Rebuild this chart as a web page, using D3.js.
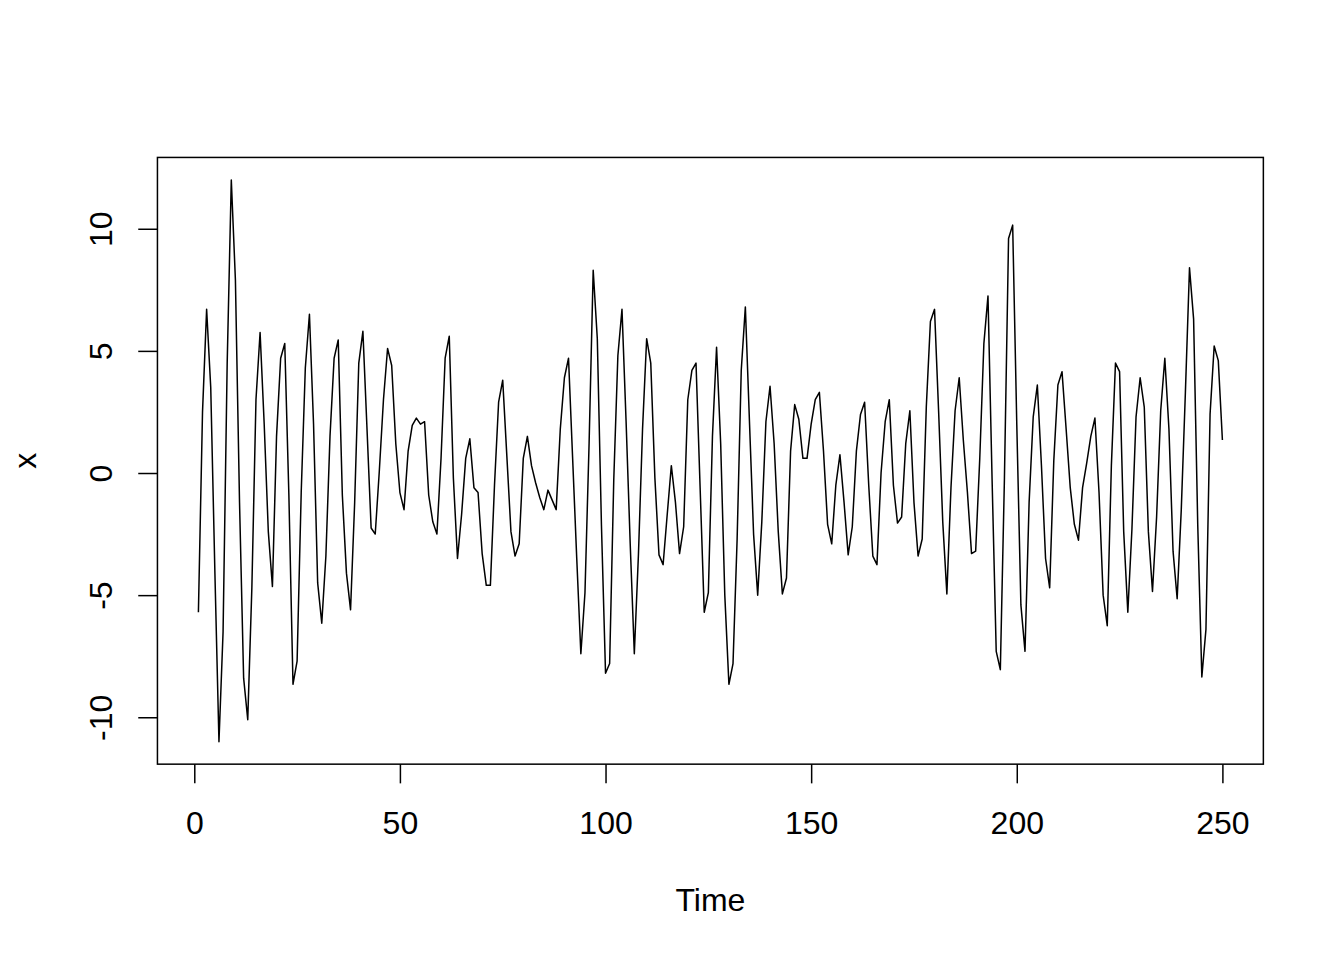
<!DOCTYPE html>
<html>
<head>
<meta charset="utf-8">
<script src="https://cdn.jsdelivr.net/npm/d3@7"></script>
<style>
  html, body { margin: 0; padding: 0; background: #ffffff; }
  svg { display: block; }
  text { font-family: "Liberation Sans", Arial, Helvetica, sans-serif; fill: #000; }
</style>
</head>
<body>
<svg id="chart" width="1344" height="960"></svg>
<script>
// ---- data ----
const seriesName = "x";
const xLabel = "Time";
const xTicks = [0, 50, 100, 150, 200, 250];
const yTicks = [-10, -5, 0, 5, 10];
const values = [
  -5.7, 2.5, 6.7, 3.5, -4.0, -11.0, -6.5, 4.5, 12.0, 7.9,
  -1.2, -8.4, -10.1, -4.7, 3.0, 5.75, 2.0, -2.4, -4.65, 1.5,
  4.7, 5.3, -0.9, -8.65, -7.7, -0.8, 4.3, 6.5, 2.0, -4.5,
  -6.15, -3.4, 1.5, 4.7, 5.45, -0.9, -4.1, -5.6, -1.2, 4.5,
  5.8, 1.8, -2.25, -2.5, 0.1, 3.0, 5.1, 4.4, 1.2, -0.8,
  -1.5, 0.9, 1.95, 2.25, 2.0, 2.1, -0.9, -2.0, -2.5, 0.6,
  4.7, 5.6, -0.2, -3.5, -1.7, 0.6, 1.4, -0.6, -0.8, -3.3,
  -4.6, -4.6, -0.5, 2.9, 3.8, 0.7, -2.4, -3.4, -2.9, 0.6,
  1.5, 0.3, -0.4, -1.0, -1.5, -0.7, -1.1, -1.5, 1.8, 3.9,
  4.7, 0.6, -3.5, -7.4, -4.9, 1.2, 8.3, 5.5, -2.1, -8.2,
  -7.8, -0.3, 4.8, 6.7, 2.1, -2.9, -7.4, -3.35, 1.8, 5.5,
  4.5, -0.2, -3.35, -3.75, -1.7, 0.3, -1.2, -3.3, -2.2, 3.0,
  4.2, 4.5, -0.6, -5.7, -4.9, 1.5, 5.15, 1.2, -5.0, -8.65,
  -7.8, -2.7, 4.2, 6.8, 2.1, -2.5, -5.0, -2.0, 2.1, 3.55,
  1.2, -2.4, -4.95, -4.3, 0.9, 2.8, 2.2, 0.6, 0.6, 2.0,
  3.0, 3.3, 0.9, -2.1, -2.9, -0.5, 0.75, -1.2, -3.35, -2.2,
  0.9, 2.4, 2.9, -0.5, -3.4, -3.75, 0.0, 2.1, 3.0, -0.5,
  -2.05, -1.8, 1.2, 2.55, -1.2, -3.4, -2.7, 2.7, 6.2, 6.7,
  2.5, -2.0, -4.95, -0.6, 2.55, 3.9, 1.35, -0.8, -3.3, -3.2,
  0.6, 5.3, 7.25, -0.3, -7.3, -8.05, -0.2, 9.6, 10.15, 2.0,
  -5.4, -7.3, -1.2, 2.3, 3.6, 0.3, -3.5, -4.7, 0.5, 3.6,
  4.15, 1.8, -0.6, -2.1, -2.75, -0.6, 0.4, 1.5, 2.25, -0.8,
  -5.0, -6.25, 0.3, 4.5, 4.15, -2.4, -5.7, -2.3, 2.3, 3.9,
  2.7, -2.4, -4.85, -1.8, 2.55, 4.7, 1.8, -3.2, -5.15, -1.5,
  3.3, 8.4, 6.3, -2.1, -8.35, -6.4, 2.4, 5.2, 4.6, 1.35
];
const times = values.map((v, i) => i + 1);

// ---- layout (R base graphics defaults at 192 dpi) ----
const W = 1344, H = 960;
const lineH = 38.4;
const margin = { top: 4.1 * lineH, right: 2.1 * lineH, bottom: 5.1 * lineH, left: 4.1 * lineH };
const x0 = margin.left, x1 = W - margin.right;
const y0 = margin.top, y1 = H - margin.bottom;

function rRange(ext) {
  const d = (ext[1] - ext[0]) * 0.04;
  return [ext[0] - d, ext[1] + d];
}
const xScale = d3.scaleLinear().domain(rRange(d3.extent(times))).range([x0, x1]);
const yScale = d3.scaleLinear().domain(rRange(d3.extent(values))).range([y1, y0]);

const svg = d3.select("#chart");
svg.append("rect").attr("width", W).attr("height", H).attr("fill", "#fff");

// series line
const line = d3.line().x((d, i) => xScale(times[i])).y(d => yScale(d));
svg.append("path")
  .datum(values)
  .attr("d", line)
  .attr("fill", "none")
  .attr("stroke", "#000")
  .attr("stroke-width", 1.5)
  .attr("stroke-linejoin", "round");

// box
svg.append("rect")
  .attr("x", x0).attr("y", y0)
  .attr("width", x1 - x0).attr("height", y1 - y0)
  .attr("fill", "none").attr("stroke", "#000").attr("stroke-width", 1.5);

const tickLen = 0.5 * lineH;
const fontSize = 32;
const fmt = d => String(d);   // plain hyphen-minus, as in R

// x axis
const gx = svg.append("g").attr("transform", `translate(0,${y1})`)
  .call(d3.axisBottom(xScale).tickValues(xTicks).tickSize(tickLen).tickSizeOuter(0).tickFormat(fmt));
gx.select(".domain").remove();
gx.selectAll(".tick line").attr("stroke", "#000").attr("stroke-width", 1.5);
gx.selectAll(".tick text")
  .attr("y", 70).attr("dy", null)
  .attr("font-size", fontSize)
  .attr("font-family", "Liberation Sans, Arial, sans-serif")
  .attr("fill", "#000");

// y axis
const gy = svg.append("g").attr("transform", `translate(${x0},0)`)
  .call(d3.axisLeft(yScale).tickValues(yTicks).tickSize(tickLen).tickSizeOuter(0).tickFormat(fmt));
gy.select(".domain").remove();
gy.selectAll(".tick line").attr("stroke", "#000").attr("stroke-width", 1.5);
gy.selectAll(".tick text")
  .attr("x", null).attr("dy", null)
  .attr("transform", `translate(${111.5 - x0},0) rotate(-90)`)
  .attr("text-anchor", "middle")
  .attr("font-size", fontSize)
  .attr("font-family", "Liberation Sans, Arial, sans-serif")
  .attr("fill", "#000");

// axis titles
svg.append("text")
  .attr("x", (x0 + x1) / 2).attr("y", 911)
  .attr("text-anchor", "middle")
  .attr("font-size", fontSize)
  .text(xLabel);

svg.append("text")
  .attr("transform", `translate(35.5,${(y0 + y1) / 2}) rotate(-90)`)
  .attr("text-anchor", "middle")
  .attr("font-size", fontSize)
  .text(seriesName);
</script>
</body>
</html>
